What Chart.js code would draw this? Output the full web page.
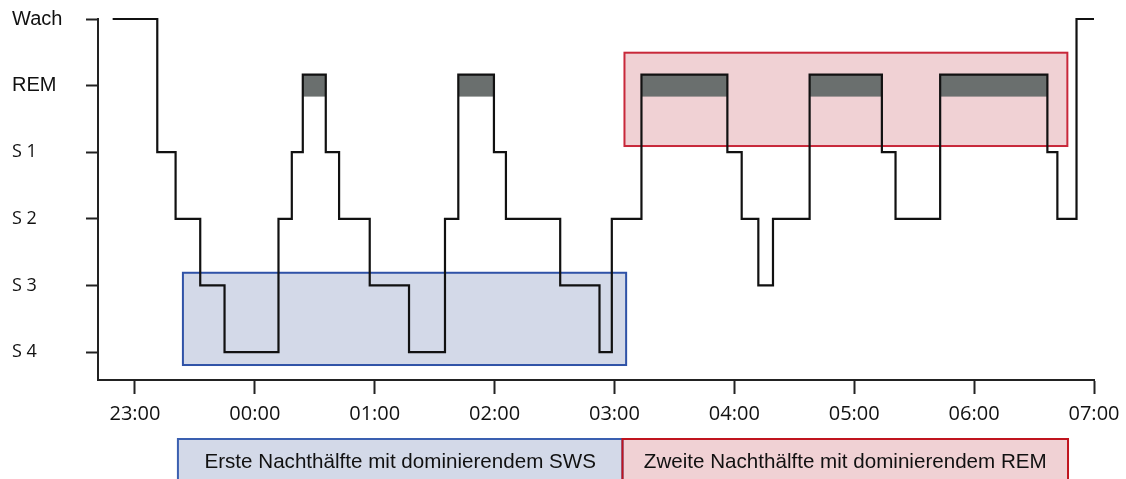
<!DOCTYPE html>
<html>
<head>
<meta charset="utf-8">
<script src="https://cdn.jsdelivr.net/npm/chart.js@4.4.1/dist/chart.umd.min.js"></script>
<style>
html,body{margin:0;padding:0;background:#fff;overflow:hidden}
#wrap{position:relative;width:1126px;height:479px}
</style>
</head>
<body>
<div id="wrap"><canvas id="c" width="1126" height="479"></canvas></div>
<script>
// ---- data ----
const stageNames = ['S 4', 'S 3', 'S 2', 'S 1', 'REM', 'Wach'];

const stageStart = ['22:48:50','23:11:10','23:20:20','23:32:40','23:44:50','00:11:50','00:18:30','00:24:00',
  '00:35:30','00:42:10','00:57:30','01:17:10','01:35:10','01:41:50','01:59:40','02:05:40','02:32:50',
  '02:52:30','02:58:40','03:13:30','03:56:30','04:03:40','04:12:00','04:19:20','04:37:40','05:13:50',
  '05:20:40','05:43:00','06:36:40','06:41:40','06:51:15'];
const stageSeq = ['Wach','S 1','S 2','S 3','S 4','S 2','S 1','REM',
  'S 1','S 2','S 3','S 4','S 2','REM','S 1','S 2','S 3',
  'S 4','S 2','REM','S 1','S 2','S 3','S 2','REM','S 1',
  'S 2','REM','S 1','S 2','Wach'];
const recordEnd = '07:00';

const axisStart = '22:41:30';
const hourTicks = ['23:00','00:00','01:00','02:00','03:00','04:00','05:00','06:00','07:00'];

const phaseLabels = ['Erste Nachthälfte mit dominierendem SWS', 'Zweite Nachthälfte mit dominierendem REM'];
const phaseBoxFrom = ['23:24:00', '03:05:00'];
const phaseBoxTo = ['03:05:50', '06:46:40'];
const phaseBoxTop = [1.19, 4.494];
const phaseBoxBottom = [-0.195, 3.093];
const phaseLegendFrom = ['23:21:30', '03:04:00'];
const phaseLegendTo = ['03:04:00', '06:47:00'];

// ---- styles ----
const REM_HALF = 0.165;
const phaseFill = ['#d3d9e8', '#f0d1d4'];
const phaseBorder = ['#2f52a7', '#c8283a'];
const legendBorder = ['#3a5fb0', '#c0141e'];
const remColor = '#6a6f6e';

// ---- helpers ----
function toMin(s) {
  const p = s.split(':').map(Number);
  let h = p[0]; if (h < 12) h += 24;
  return (h - 22) * 60 + p[1] + (p[2] || 0) / 60;
}
function stageLevel(name) {
  const v = stageNames.indexOf(name);
  return name === 'REM' ? v + REM_HALF : v;
}

const points = stageStart.map((t, i) => ({ x: toMin(t), y: stageLevel(stageSeq[i]) }));
points.push({ x: toMin(recordEnd), y: stageLevel(stageSeq[stageSeq.length - 1]) });

const remEpisodes = [];
stageSeq.forEach((s, i) => {
  if (s === 'REM') remEpisodes.push([toMin(stageStart[i]), toMin(i + 1 < stageStart.length ? stageStart[i + 1] : recordEnd)]);
});

const decorPlugin = {
  id: 'decor',
  beforeDatasetsDraw(chart) {
    const { ctx, scales: { x, y } } = chart;
    ctx.save();
    for (let i = 0; i < phaseLabels.length; i++) {
      const x0 = x.getPixelForValue(toMin(phaseBoxFrom[i]));
      const x1 = x.getPixelForValue(toMin(phaseBoxTo[i]));
      const y0 = y.getPixelForValue(phaseBoxTop[i]);
      const y1 = y.getPixelForValue(phaseBoxBottom[i]);
      ctx.fillStyle = phaseFill[i];
      ctx.fillRect(x0, y0, x1 - x0, y1 - y0);
      ctx.strokeStyle = phaseBorder[i];
      ctx.lineWidth = 2;
      ctx.strokeRect(x0, y0, x1 - x0, y1 - y0);
    }
    const remV = stageNames.indexOf('REM');
    ctx.fillStyle = remColor;
    remEpisodes.forEach(([a, b]) => {
      const x0 = x.getPixelForValue(a), x1 = x.getPixelForValue(b);
      const y0 = y.getPixelForValue(remV + REM_HALF), y1 = y.getPixelForValue(remV - REM_HALF);
      ctx.fillRect(x0, y0, x1 - x0, y1 - y0);
    });
    ctx.restore();
  },
  afterDraw(chart) {
    const { ctx, scales: { x } } = chart;
    ctx.save();
    const top = 439, bottom = 482;
    for (let i = 0; i < phaseLabels.length; i++) {
      const x0 = x.getPixelForValue(toMin(phaseLegendFrom[i]));
      const x1 = x.getPixelForValue(toMin(phaseLegendTo[i]));
      ctx.fillStyle = phaseFill[i];
      ctx.fillRect(x0, top, x1 - x0, bottom - top);
    }
    for (let i = 0; i < phaseLabels.length; i++) {
      const x0 = x.getPixelForValue(toMin(phaseLegendFrom[i]));
      const x1 = x.getPixelForValue(toMin(phaseLegendTo[i]));
      ctx.strokeStyle = legendBorder[i];
      ctx.lineWidth = 2;
      ctx.strokeRect(x0, top, x1 - x0, bottom - top);
      ctx.fillStyle = '#111';
      ctx.font = '20.6px "Liberation Sans", Arial, sans-serif';
      ctx.textAlign = 'center';
      ctx.textBaseline = 'middle';
      ctx.fillText(phaseLabels[i], (x0 + x1) / 2, 462);
    }
    ctx.restore();
  }
};

new Chart(document.getElementById('c'), {
  type: 'line',
  data: {
    datasets: [{
      data: points,
      stepped: 'before',
      borderColor: '#111',
      borderWidth: 2.2,
      pointRadius: 0,
      fill: false,
      clip: false
    }]
  },
  options: {
    responsive: false,
    animation: false,
    events: [],
    layout: { padding: { left: 12, right: 32, top: 19, bottom: 0 } },
    plugins: { legend: { display: false }, tooltip: { enabled: false } },
    scales: {
      x: {
        type: 'linear',
        min: toMin(axisStart),
        max: toMin(recordEnd),
        afterBuildTicks: s => { s.ticks = hourTicks.map(t => ({ value: toMin(t) })); },
        afterFit: s => { s.height = 99; s.paddingLeft = 0; s.paddingRight = 0; },
        ticks: {
          callback: (v) => hourTicks.find(t => Math.abs(toMin(t) - v) < 0.01),
          color: '#111',
          padding: 8,
          maxRotation: 0,
          font: { family: '"Open Sans", sans-serif', size: 20 }
        },
        grid: { drawOnChartArea: false, tickLength: 14, tickWidth: 2, tickColor: '#222' },
        border: { color: '#222', width: 2 }
      },
      y: {
        type: 'linear',
        min: -0.42,
        max: 5,
        afterBuildTicks: s => { s.ticks = stageNames.map((n, i) => ({ value: i })); },
        afterFit: s => { s.width = 86; },
        ticks: {
          callback: (v) => stageNames[Math.round(v)],
          color: '#111',
          crossAlign: 'far',
          padding: 4,
          font: (ctx) => {
            const n = stageNames[ctx.index];
            return (n === 'Wach' || n === 'REM')
              ? { family: '"Liberation Sans", Arial, sans-serif', size: 20 }
              : { family: '"Open Sans", sans-serif', size: 18 };
          }
        },
        grid: { drawOnChartArea: false, tickLength: 12, tickWidth: 2, tickColor: '#222' },
        border: { color: '#222', width: 2 }
      }
    }
  },
  plugins: [decorPlugin]
});
</script>
</body>
</html>
